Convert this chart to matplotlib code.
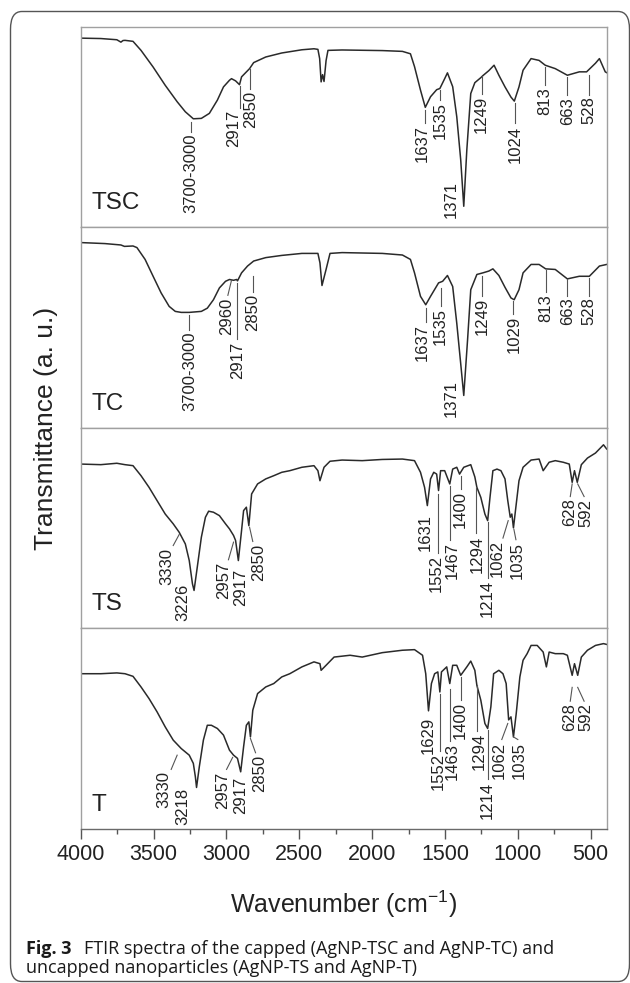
import matplotlib
matplotlib.use("Agg")
import matplotlib.pyplot as plt
from matplotlib.patches import FancyBboxPatch
from matplotlib.ticker import MultipleLocator

plt.rcParams['font.family'] = ['Liberation Sans', 'DejaVu Sans']
plt.rcParams['mathtext.fontset'] = 'custom'
plt.rcParams['mathtext.rm'] = 'Liberation Sans'
plt.rcParams['mathtext.it'] = 'Liberation Sans'

# ---------------- data (wavenumber cm-1, transmittance a.u.) ----------------
tsc_wn = [4000, 3862, 3752, 3724, 3710, 3696, 3641, 3586, 3503, 3420, 3338, 3282, 3227, 3172,
          3117, 3062, 3020, 2979, 2965, 2937, 2910, 2896, 2841, 2813, 2730, 2620, 2482, 2399,
          2372, 2360, 2350, 2340, 2330, 2316, 2303, 2206, 1930, 1792, 1737, 1709, 1668, 1635,
          1599, 1557, 1535, 1502, 1483, 1447, 1419, 1392, 1371, 1350, 1323, 1295, 1254, 1240,
          1199, 1163, 1130, 1088, 1047, 1024, 992, 964, 909, 854, 812, 743, 660, 578, 528, 467,
          440, 400, 390]
tsc_t = [94.2, 94.0, 93.4, 92.2, 93.0, 93.1, 92.6, 88.1, 79.8, 70.7, 62.5, 57.5, 54.0, 54.2,
         56.7, 63.3, 69.9, 73.2, 74.0, 72.9, 71.0, 74.9, 79.0, 82.0, 84.8, 86.8, 88.4, 88.9,
         88.6, 84.0, 72.4, 76.0, 72.6, 83.0, 88.1, 88.3, 88.0, 87.6, 86.4, 80.0, 68.3, 59.7,
         65.0, 68.5, 69.1, 74.0, 76.9, 70.0, 55.0, 33.6, 10.4, 38.5, 66.6, 72.0, 74.5, 75.5,
         78.0, 80.7, 75.7, 69.9, 64.8, 62.8, 69.9, 78.2, 84.0, 83.1, 80.7, 79.0, 75.7, 77.4, 77.4,
         81.7, 84.0, 77.4, 77.0]

tc_wn = [4000, 3834, 3724, 3700, 3641, 3614, 3558, 3503, 3448, 3393, 3351, 3310, 3255, 3172,
         3131, 3089, 3048, 3006, 2979, 2951, 2930, 2924, 2896, 2855, 2813, 2730, 2620, 2482,
         2372, 2358, 2344, 2316, 2289, 2206, 1930, 1792, 1737, 1709, 1668, 1632, 1599, 1544,
         1516, 1483, 1447, 1419, 1392, 1371, 1345, 1323, 1281, 1240, 1199, 1171, 1130, 1088,
         1047, 1025, 992, 964, 909, 854, 809, 743, 660, 578, 509, 440, 390]
tc_t = [92.3, 91.8, 91.1, 90.4, 90.6, 89.8, 83.9, 75.5, 67.2, 60.5, 58.0, 57.5, 57.5, 58.0,
        59.6, 63.8, 69.7, 73.0, 73.9, 73.5, 73.9, 73.2, 77.2, 80.6, 83.1, 84.8, 85.9, 86.9,
        86.9, 82.2, 70.9, 78.9, 86.9, 87.3, 86.9, 86.1, 83.9, 77.2, 65.5, 61.3, 65.5, 72.2,
        73.0, 75.9, 70.4, 52.1, 32.0, 16.1, 43.7, 68.8, 76.4, 77.2, 78.1, 79.2, 75.9, 70.0,
        64.7, 63.8, 68.8, 77.2, 81.4, 81.4, 79.2, 78.9, 74.2, 75.5, 75.5, 80.6, 81.4]

ts_wn = [4000, 3862, 3752, 3696, 3641, 3586, 3531, 3476, 3420, 3365, 3324, 3282, 3255, 3233,
         3222, 3200, 3172, 3144, 3122, 3089, 3048, 3006, 2979, 2951, 2937, 2918, 2896, 2882,
         2863, 2846, 2827, 2786, 2730, 2675, 2620, 2565, 2482, 2399, 2372, 2358, 2330, 2289,
         2206, 2068, 1930, 1792, 1709, 1668, 1640, 1621, 1599, 1577, 1557, 1544, 1530, 1502,
         1467, 1447, 1419, 1400, 1371, 1323, 1295, 1281, 1254, 1226, 1207, 1191, 1171, 1143,
         1116, 1088, 1069, 1052, 1041, 1030, 1011, 992, 964, 909, 854, 826, 785, 743, 688,
         647, 627, 611, 592, 564, 522, 467, 412, 390]
ts_t = [81.9, 81.6, 82.3, 81.6, 81.1, 76.1, 70.3, 63.7, 57.0, 52.1, 47.9, 42.1, 33.8, 22.2,
        18.9, 30.5, 45.4, 55.4, 58.4, 57.9, 56.2, 52.1, 49.6, 46.3, 43.8, 33.8, 48.8, 58.7,
        60.4, 51.2, 67.0, 72.0, 74.5, 76.1, 77.8, 78.6, 80.3, 81.1, 78.6, 73.6, 80.3, 83.3,
        83.9, 83.6, 84.2, 84.4, 83.6, 77.8, 70.3, 61.2, 74.5, 77.8, 76.9, 68.7, 78.6, 78.6,
        72.0, 79.4, 80.3, 76.9, 80.3, 81.6, 75.5, 70.3, 65.3, 57.0, 53.7, 65.3, 78.6, 79.4,
        78.6, 74.5, 63.7, 55.4, 57.0, 50.1, 61.9, 73.6, 80.3, 83.9, 84.4, 78.6, 82.8, 83.6,
        82.8, 81.9, 72.8, 78.6, 72.8, 81.6, 84.9, 87.4, 91.5, 89.4]

t_wn = [4000, 3862, 3752, 3696, 3641, 3586, 3531, 3476, 3420, 3365, 3310, 3255, 3227, 3213,
        3205, 3186, 3158, 3131, 3103, 3062, 3020, 2979, 2951, 2924, 2902, 2882, 2863, 2846,
        2835, 2819, 2786, 2730, 2675, 2620, 2565, 2482, 2399, 2358, 2350, 2316, 2261, 2151,
        2068, 1930, 1792, 1709, 1654, 1632, 1613, 1593, 1571, 1549, 1535, 1524, 1488, 1467,
        1447, 1419, 1392, 1350, 1323, 1295, 1281, 1254, 1226, 1207, 1185, 1166, 1130, 1102,
        1080, 1063, 1047, 1030, 1011, 986, 964, 936, 909, 867, 826, 804, 785, 743, 688, 660,
        627, 611, 589, 564, 522, 467, 412, 390]
t_t = [77.4, 77.4, 77.8, 77.4, 76.1, 70.8, 65.0, 58.4, 50.9, 44.3, 40.1, 36.8, 32.7, 26.0,
       20.7, 31.0, 44.3, 51.7, 51.7, 50.1, 46.8, 39.3, 36.8, 35.2, 28.5, 41.0, 51.7, 53.4,
       45.9, 59.2, 67.5, 70.8, 72.5, 75.8, 77.4, 80.8, 83.3, 82.4, 79.1, 81.6, 85.7, 86.6,
       85.7, 87.9, 89.1, 89.4, 86.6, 77.4, 58.9, 72.5, 77.4, 78.3, 68.3, 78.3, 80.8, 72.5,
       81.6, 81.6, 76.6, 80.8, 83.7, 79.1, 71.6, 64.2, 52.6, 50.1, 60.9, 77.4, 79.1, 77.4,
       72.5, 54.4, 55.9, 45.9, 57.5, 75.8, 84.1, 87.4, 91.5, 91.5, 88.2, 80.8, 88.2, 87.4,
       87.4, 86.6, 76.6, 82.4, 76.6, 85.7, 89.1, 91.5, 92.4, 92.0]

sample_names = ["TSC", "TC", "TS", "T"]

# peak annotations: label, tip (wn, T), line end (wn, T), text x (wn)
tsc_labels = ["3700-3000", "2917", "2850", "1637", "1535", "1371", "1249", "1024", "813", "663", "528"]
tsc_tip_x = [3241, 2910, 2835, 1635, 1535, 1455, 1246, 1019, 812, 660, 509]
tsc_tip_y = [52.6, 70.2, 79.0, 58.3, 68.3, 24.0, 75.2, 61.7, 79.8, 74.9, 75.7]
tsc_end_x = [3241, 2910, 2835, 1635, 1535, 1455, 1246, 1019, 812, 660, 509]
tsc_end_y = [47.6, 59.5, 68.8, 51.7, 63.3, 24.0, 66.6, 51.7, 70.7, 65.8, 66.1]
tsc_txt_x = [3241, 2950, 2835, 1655, 1530, 1455, 1248, 1019, 812, 660, 509]

tc_labels = ["3700-3000", "2960", "2917", "2850", "1637", "1535", "1371", "1249", "1029", "813", "663", "528"]
tc_tip_x = [3255, 2965, 2924, 2819, 1632, 1530, 1458, 1246, 1033, 809, 660, 509]
tc_tip_y = [56.3, 73.5, 72.2, 75.5, 59.6, 69.7, 24.8, 75.5, 63.0, 78.6, 73.9, 74.7]
tc_end_x = [3255, 2990, 2924, 2819, 1632, 1530, 1458, 1246, 1033, 809, 660, 509]
tc_end_y = [48.9, 66.0, 44.1, 67.5, 52.8, 60.8, 24.8, 65.9, 56.6, 67.5, 65.9, 65.9]
tc_txt_x = [3250, 3001, 2924, 2819, 1654, 1530, 1458, 1246, 1025, 809, 660, 509]

ts_labels = ["3330", "3226", "2957", "2917", "2850", "1631", "1552", "1467", "1400", "1294",
             "1214", "1062", "1035", "628", "592"]
ts_tip_x = [3324, 3296, 2951, 2902, 2841, 1632, 1549, 1467, 1392, 1287, 1207, 1066, 1027, 627, 589]
ts_tip_y = [46.8, 23.4, 43.0, 30.9, 50.4, 58.2, 67.0, 71.1, 76.1, 70.3, 52.9, 53.7, 49.4, 72.0, 72.0]
ts_end_x = [3365, 3296, 2986, 2902, 2819, 1632, 1549, 1467, 1392, 1287, 1207, 1102, 1013, 640, 545]
ts_end_y = [41.3, 23.4, 34.2, 30.9, 43.3, 58.2, 37.5, 44.2, 69.5, 47.4, 25.1, 45.0, 44.2, 65.7, 65.7]
ts_txt_x = [3412, 3296, 3020, 2902, 2778, 1632, 1557, 1447, 1392, 1281, 1207, 1138, 1005, 645, 530]

t_labels = ["3330", "3218", "2957", "2917", "2850", "1629", "1552", "1463", "1400", "1294",
            "1214", "1062", "1035", "628", "592"]
t_tip_x = [3338, 3296, 2957, 2902, 2835, 1615, 1535, 1467, 1392, 1281, 1207, 1069, 1030, 627, 589]
t_tip_y = [36.8, 21.4, 35.7, 27.2, 45.1, 57.1, 67.5, 70.0, 75.8, 71.6, 49.3, 52.6, 45.9, 70.6, 70.6]
t_end_x = [3379, 3296, 2999, 2902, 2800, 1615, 1535, 1467, 1392, 1281, 1207, 1110, 1000, 640, 545]
t_end_y = [29.7, 21.4, 29.7, 27.2, 38.0, 57.1, 38.8, 43.8, 64.5, 48.8, 24.7, 44.6, 44.6, 63.7, 63.7]
t_txt_x = [3428, 3296, 3026, 2902, 2772, 1615, 1549, 1447, 1392, 1268, 1207, 1130, 989, 645, 530]

x_ticks = [4000, 3500, 3000, 2500, 2000, 1500, 1000, 500]

# ---------------- figure ----------------
W, H = 630, 983
fig = plt.figure(figsize=(W / 100, H / 100), dpi=100)
fig.patch.set_facecolor("white")

left, right = 80.7 / W, 606.7 / W
top_px, bot_px = 26.5, 829.0
ph = (bot_px - top_px) / 4

spectra = [(tsc_wn, tsc_t), (tc_wn, tc_t), (ts_wn, ts_t), (t_wn, t_t)]
annots = [
    (tsc_labels, tsc_tip_x, tsc_tip_y, tsc_end_x, tsc_end_y, tsc_txt_x),
    (tc_labels, tc_tip_x, tc_tip_y, tc_end_x, tc_end_y, tc_txt_x),
    (ts_labels, ts_tip_x, ts_tip_y, ts_end_x, ts_end_y, ts_txt_x),
    (t_labels, t_tip_x, t_tip_y, t_end_x, t_end_y, t_txt_x),
]

line_col = "#2a2a2a"
for i in range(4):
    y0 = 1 - (top_px + (i + 1) * ph) / H
    ax = fig.add_axes([left, y0, right - left, ph / H])
    ax.set_xlim(4000, 390)
    ax.set_ylim(0, 100)
    wn, tt = spectra[i]
    ax.plot(wn, tt, color=line_col, lw=1.1, solid_joinstyle="round")
    labs, tx, ty, ex, ey, txx = annots[i]
    for k in range(len(labs)):
        if (tx[k], ty[k]) != (ex[k], ey[k]):
            ax.plot([tx[k], ex[k]], [ty[k], ey[k]], color="#555555", lw=0.8)
        ax.text(txx[k], ey[k] - 1.0, labs[k], rotation=90, ha="center", va="top",
                fontsize=12, color="#222222")
    ax.text(0.02, 0.09, sample_names[i], transform=ax.transAxes, ha="left",
            va="baseline", fontsize=17.5, color="#222222")
    ax.set_yticks([])
    for s in ["left", "right", "top", "bottom"]:
        ax.spines[s].set_color("#a0a0a0")
        ax.spines[s].set_linewidth(1.0)
    if i < 3:
        ax.set_xticks([])
    else:
        ax.spines["bottom"].set_color("#6a6a6a")
        ax.set_xticks(x_ticks)
        ax.xaxis.set_minor_locator(MultipleLocator(250))
        ax.tick_params(axis="x", which="major", direction="out", length=7, width=1.0,
                       color="#555555", labelsize=15.5, labelcolor="#222222", pad=4)
        ax.tick_params(axis="x", which="minor", direction="out", length=3.5, width=1.0,
                       color="#555555")

fig.text(46 / W, 1 - 428 / H, "Transmittance (a. u.)", rotation=90, ha="center",
         va="center", fontsize=19, color="#222222")
fig.text(343.7 / W, 1 - 913 / H, r"Wavenumber (cm$^{\mathrm{-1}}$)", ha="center",
         va="baseline", fontsize=18, color="#222222")

# caption
cap_font = ["Open Sans", "DejaVu Sans"]
fig.canvas.draw()
r = fig.canvas.get_renderer()
t1 = fig.text(26 / W, 1 - 954 / H, "Fig. 3", ha="left", va="baseline", fontsize=13,
              fontweight="bold", family=cap_font, color="#1a1a1a")
bb = t1.get_window_extent(renderer=r)
fig.text((bb.x1 + 13) / W, 1 - 954 / H,
         "FTIR spectra of the capped (AgNP-TSC and AgNP-TC) and", ha="left",
         va="baseline", fontsize=13, family=cap_font, color="#1a1a1a")
fig.text(26 / W, 1 - 973 / H, "uncapped nanoparticles (AgNP-TS and AgNP-T)", ha="left",
         va="baseline", fontsize=13, family=cap_font, color="#1a1a1a")

# rounded outer frame
frame = FancyBboxPatch((10.5 / W, 1 - 981.5 / H), (629.5 - 10.5) / W, (981.5 - 11.5) / H,
                       boxstyle="round,pad=0,rounding_size=0.018", transform=fig.transFigure,
                       fill=False, edgecolor="#555555", linewidth=1.0, clip_on=False)
fig.patches.append(frame)

fig.savefig("out.png", dpi=100)
